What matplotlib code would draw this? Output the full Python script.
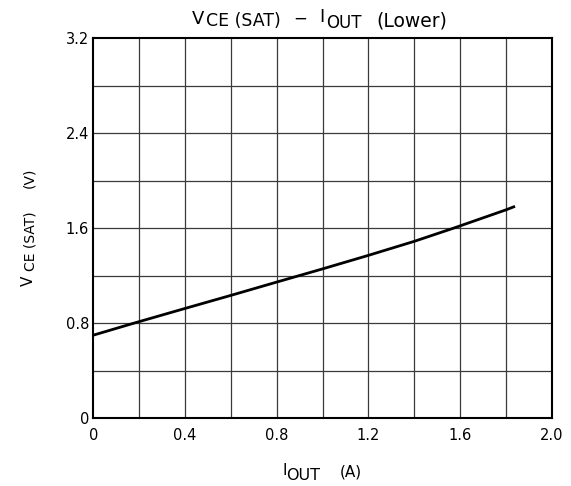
import matplotlib
matplotlib.use("Agg")
import matplotlib.pyplot as plt
import numpy as np

plt.rcParams['font.family'] = ['DejaVu Sans']

# Data
i_out = [0.0, 0.175, 0.4, 0.6, 0.8, 1.0, 1.2, 1.4, 1.57, 1.8, 1.84]
v_ce_sat = [0.70, 0.80, 0.925, 1.035, 1.147, 1.258, 1.372, 1.49, 1.60, 1.755, 1.785]

x_ticks = [0, 0.4, 0.8, 1.2, 1.6, 2.0]
x_tick_labels = ["0", "0.4", "0.8", "1.2", "1.6", "2.0"]
y_ticks = [0, 0.8, 1.6, 2.4, 3.2]
y_tick_labels = ["0", "0.8", "1.6", "2.4", "3.2"]

W, H = 571, 486
fig = plt.figure(figsize=(W / 100, H / 100), dpi=100)
ax = fig.add_axes([93.3 / W, (H - 418.3) / H, 458.4 / W, 380 / H])

ax.set_xlim(0, 2.0)
ax.set_ylim(0, 3.2)

# grid
for gx in np.arange(0.2, 1.99, 0.2):
    ax.axvline(gx, color='#3a3a3a', lw=0.9, zorder=1)
for gy in np.arange(0.4, 3.19, 0.4):
    ax.axhline(gy, color='#3a3a3a', lw=0.9, zorder=1)

ax.plot(i_out, v_ce_sat, color='black', lw=2.0, zorder=3,
        solid_capstyle='butt', solid_joinstyle='round')

ax.set_xticks(x_ticks)
ax.set_xticklabels(x_tick_labels)
ax.set_yticks(y_ticks)
ax.set_yticklabels(y_tick_labels)
ax.tick_params(length=0, labelsize=10.5, colors='black')
ax.tick_params(axis='x', pad=7)
ax.tick_params(axis='y', pad=3)
for s in ax.spines.values():
    s.set_linewidth(1.5)
    s.set_color('black')


def piece(s, x_px, base_from_top, size):
    fig.text(x_px / W, (H - base_from_top) / H, s, fontsize=size,
             ha='left', va='baseline', rotation=0,
             rotation_mode='anchor', color='black')


# Title: V_CE (SAT) - I_OUT (Lower)
piece("V", 191.5, 24, 13)
piece("CE (SAT)", 206.5, 26.5, 12.5)
piece("\u2212", 293.5, 24, 12)
piece("I", 319, 22.5, 13)
piece("OUT", 326.5, 28, 12)
piece("(Lower)", 376.5, 26.5, 13.5)

# x-axis label: I_OUT (A)
piece("I", 282, 475, 11)
piece("OUT", 286.5, 480, 11.5)
piece("(A)", 339.5, 476, 11)


# y-axis label: V_CE (SAT) (V)  (rotated, x is the baseline position)
def vpiece(s, base_x, start_from_top, size):
    fig.text(base_x / W, (H - start_from_top) / H, s, fontsize=size,
             ha='left', va='baseline', rotation=90,
             rotation_mode='anchor', color='black')


vpiece("V", 33, 285.5, 11)
vpiece("CE (SAT)", 34, 271, 10)
vpiece("(V)", 33, 188, 10)

fig.savefig("out.png", dpi=100)
